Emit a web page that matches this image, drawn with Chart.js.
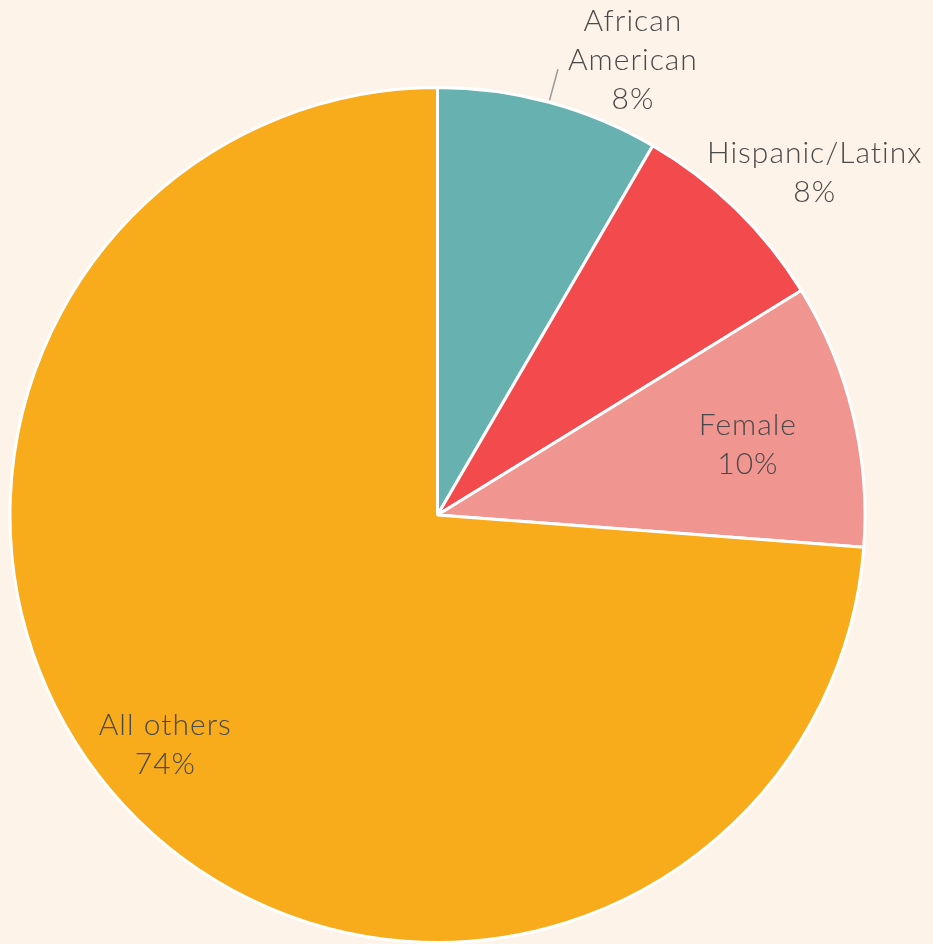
<!DOCTYPE html>
<html>
<head>
<meta charset="utf-8">
<script src="https://cdn.jsdelivr.net/npm/chart.js@4"></script>
<style>
    html, body { margin: 0; padding: 0; background: #fdf3e9; }
    .wrap { width: 933px; height: 944px; position: relative; }
</style>
</head>
<body>
<div class="wrap"><canvas id="pie"></canvas></div>
<script>
// Data (clockwise from 12 o'clock)
const labels = ['African American', 'Hispanic/Latinx', 'Female', 'All others'];
const shares = [8.4, 7.8, 10, 73.8];
const colors = ['#67b2b0', '#f24a4d', '#f0958f', '#f8ab1b'];

// label placement: radius factor + nudge (styling only)
const labelPos = [
    { r: 1.08, dx: 75, dy: -9, lines: ['African', 'American'], leader: true },
    { r: 1.19, dx: 22, dy: 22, lines: ['Hispanic/Latinx'] },
    { r: 0.74, dx: 3, dy: 5, lines: ['Female'] },
    { r: 0.83, dx: -12, dy: -11, lines: ['All others'] }
];

const sliceLabels = {
    id: 'sliceLabels',
    afterDatasetsDraw(chart) {
        const ctx = chart.ctx;
        const arcs = chart.getDatasetMeta(0).data;
        ctx.save();
        ctx.font = '300 30px Lato, "Open Sans", sans-serif';
        ctx.letterSpacing = '1px';
        ctx.fillStyle = '#4a4a4a';
        ctx.textAlign = 'center';
        ctx.textBaseline = 'middle';
        arcs.forEach((a, i) => {
            const p = labelPos[i];
            const mid = (a.startAngle + a.endAngle) / 2;
            const R = a.outerRadius;
            const bx = a.x + Math.cos(mid) * R * p.r;
            const by = a.y + Math.sin(mid) * R * p.r;
            if (p.leader) {
                ctx.strokeStyle = '#9a9a9a';
                ctx.lineWidth = 1.5;
                ctx.beginPath();
                ctx.moveTo(a.x + Math.cos(mid) * (R + 2), a.y + Math.sin(mid) * (R + 2));
                ctx.lineTo(bx, by);
                ctx.stroke();
            }
            const txt = p.lines.concat([Math.round(shares[i]) + '%']);
            const lh = 39;
            const cx = bx + p.dx, cy = by + p.dy;
            const top = cy - (txt.length - 1) * lh / 2;
            txt.forEach((t, k) => ctx.fillText(t, cx, top + k * lh));
        });
        ctx.restore();
    }
};

new Chart(document.getElementById('pie'), {
    type: 'pie',
    data: {
        labels: labels,
        datasets: [{ data: shares, backgroundColor: colors, borderColor: '#ffffff', borderWidth: 3 }]
    },
    options: {
        responsive: true,
        maintainAspectRatio: false,
        animation: false,
        layout: { padding: { left: 8, right: 66, top: 86, bottom: 0 } },
        plugins: { legend: { display: false }, tooltip: { enabled: false } }
    },
    plugins: [sliceLabels]
});
</script>
</body>
</html>
